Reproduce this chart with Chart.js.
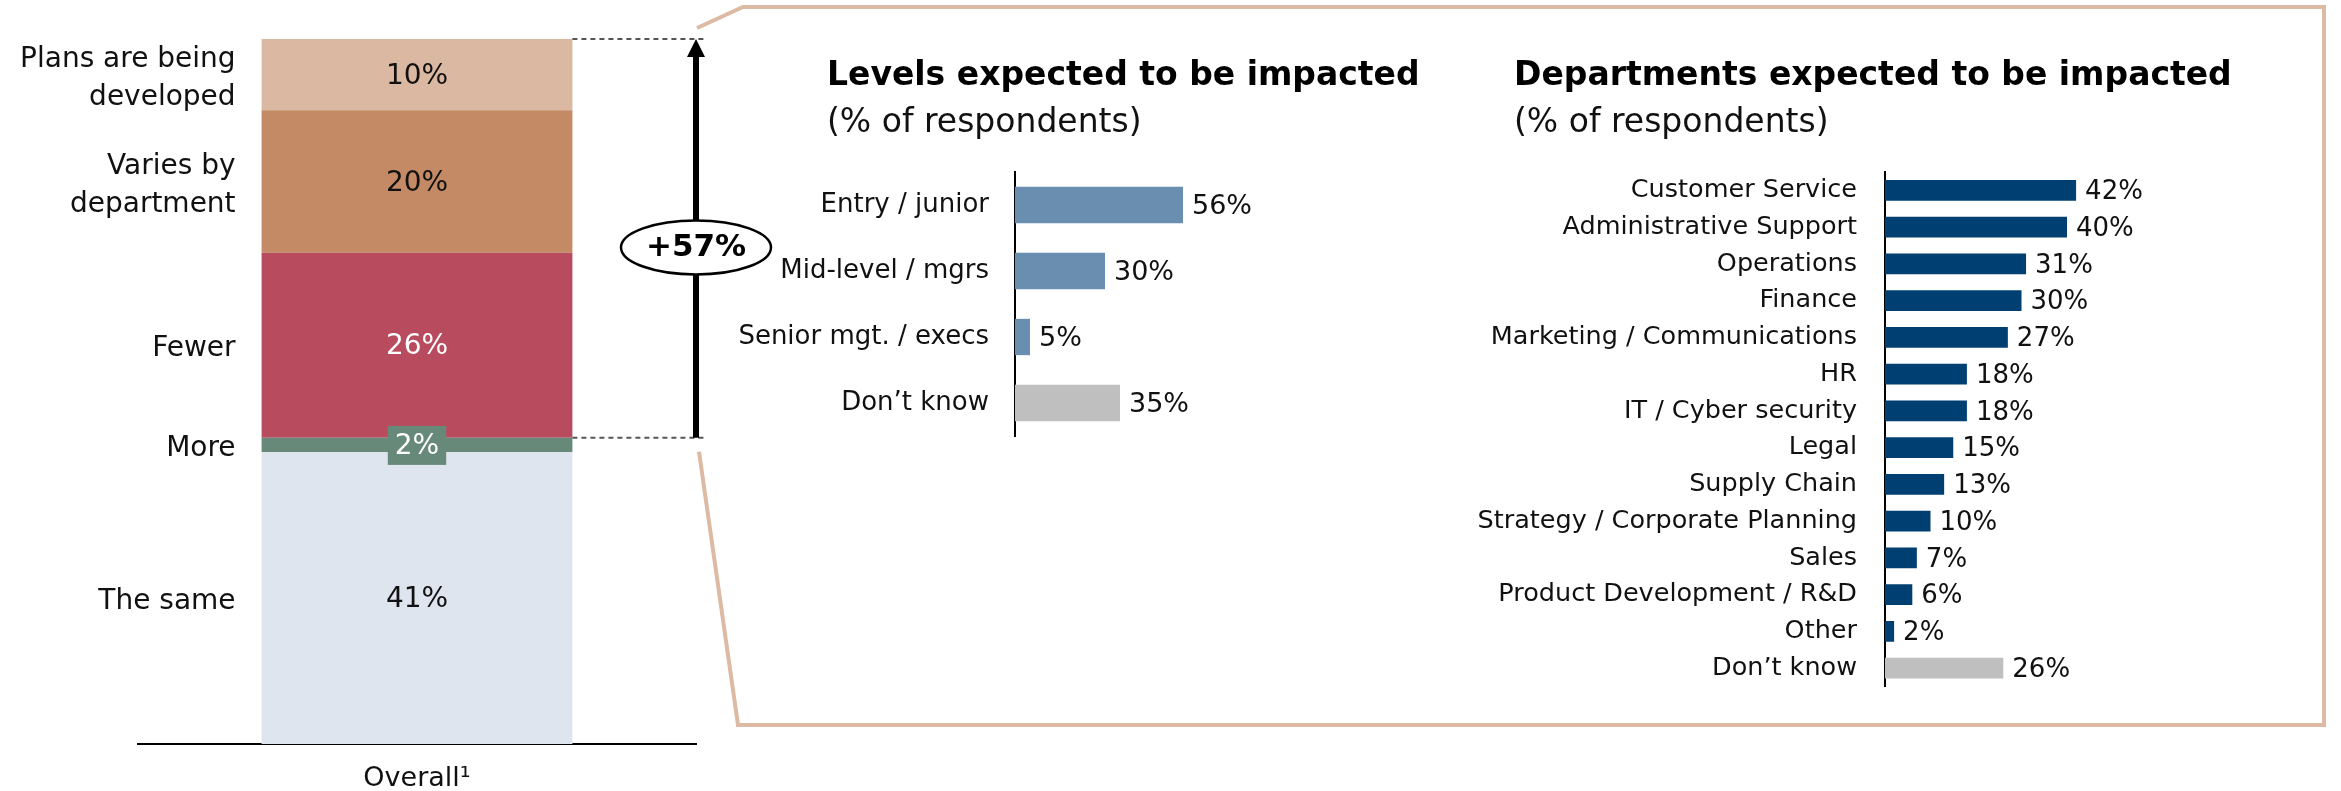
<!DOCTYPE html>
<html>
<head>
<meta charset="utf-8">
<script src="https://cdn.jsdelivr.net/npm/chart.js@4.4.1/dist/chart.umd.min.js"></script>
<style>
  body { margin: 0; background: #fff; overflow: hidden; }
  #wrap { position: relative; width: 2341px; height: 791px; }
  canvas { position: absolute; top: 0; }
</style>
</head>
<body>
<div id="wrap">
  <canvas id="overall" width="2341" height="791" style="left:0"></canvas>
  <canvas id="levels" width="780" height="791" style="left:700px"></canvas>
  <canvas id="departments" width="871" height="791" style="left:1470px"></canvas>
</div>
<script>
// datos del grafico
const overallCategory = ['Overall¹'];
const overallLabels = [['The same'], ['More'], ['Fewer'], ['Varies by', 'department'], ['Plans are being', 'developed']];
const overallValues = [41, 2, 26, 20, 10];
const changeLabel = '+57%';

const levelLabels = ['Entry / junior', 'Mid-level / mgrs', 'Senior mgt. / execs', 'Don’t know'];
const levelValues = [56, 30, 5, 35];

const deptLabels = ['Customer Service', 'Administrative Support', 'Operations', 'Finance',
  'Marketing / Communications', 'HR', 'IT / Cyber security', 'Legal', 'Supply Chain',
  'Strategy / Corporate Planning', 'Sales', 'Product Development / R&D', 'Other', 'Don’t know'];
const deptValues = [42, 40, 31, 30, 27, 18, 18, 15, 13, 10, 7, 6, 2, 26];

// colores
const overallColors = ['#DEE5EF', '#67897A', '#B84B5E', '#C48A65', '#DBB8A1'];
const overallTextColors = ['#111', '#fff', '#fff', '#111', '#111'];
const levelBlue = '#6A8EB0';
const deptBlue = '#003F72';
const unknownGrey = '#BFBFBF';
const frameColor = '#DDBAA3';

Chart.defaults.font.family = "'DejaVu Sans', Verdana, sans-serif";
Chart.defaults.color = '#111';

// etiquetas, flecha, ovalo y marco del grafico apilado
const overallPlugin = {
    id: 'overallExtras',
    afterDraw(chart) {
        const ctx = chart.ctx;
        const area = chart.chartArea;
        const bars = chart.data.datasets.map((d, i) => chart.getDatasetMeta(i).data[0]);
        ctx.save();
        ctx.textBaseline = 'middle';
        bars.forEach((bar, i) => {
            const mid = (bar.y + bar.base) / 2;
            const left = bar.x - bar.width / 2;
            ctx.font = '28px "DejaVu Sans"';
            ctx.fillStyle = '#111';
            ctx.textAlign = 'right';
            const lines = overallLabels[i];
            lines.forEach((t, k) => {
                ctx.fillText(t, left - 26, mid + 4 + (k - (lines.length - 1) / 2) * 38);
            });
            const txt = overallValues[i] + '%';
            ctx.textAlign = 'center';
            if (Math.abs(bar.base - bar.y) < 30) {
                const w = ctx.measureText(txt).width + 14;
                ctx.fillStyle = overallColors[i];
                ctx.fillRect(bar.x - w / 2, mid - 19, w, 39);
            }
            ctx.fillStyle = overallTextColors[i];
            ctx.fillText(txt, bar.x, mid + 2);
        });

        const top = bars[bars.length - 1].y;
        const mid = bars[2].base;
        const barRight = bars[0].x + bars[0].width / 2;
        const ax = area.right;

        // lineas punteadas
        ctx.strokeStyle = '#555';
        ctx.lineWidth = 2;
        ctx.setLineDash([5, 4]);
        [top, mid].forEach(y => {
            ctx.beginPath();
            ctx.moveTo(barRight, y);
            ctx.lineTo(ax + 9, y);
            ctx.stroke();
        });
        ctx.setLineDash([]);

        // flecha
        ctx.strokeStyle = '#000';
        ctx.lineWidth = 6;
        ctx.beginPath();
        ctx.moveTo(ax, mid);
        ctx.lineTo(ax, top + 14);
        ctx.stroke();
        ctx.fillStyle = '#000';
        ctx.beginPath();
        ctx.moveTo(ax, top);
        ctx.lineTo(ax - 9, top + 18);
        ctx.lineTo(ax + 9, top + 18);
        ctx.closePath();
        ctx.fill();

        // ovalo con el cambio
        const cy = (top + mid) / 2 + 9;
        ctx.beginPath();
        ctx.ellipse(ax, cy, 75, 27, 0, 0, Math.PI * 2);
        ctx.fillStyle = '#fff';
        ctx.fill();
        ctx.lineWidth = 2.5;
        ctx.strokeStyle = '#000';
        ctx.stroke();
        ctx.fillStyle = '#000';
        ctx.font = 'bold 31px "DejaVu Sans"';
        ctx.textAlign = 'center';
        ctx.fillText(changeLabel, ax, cy + 1);

        // marco
        ctx.strokeStyle = frameColor;
        ctx.lineWidth = 4;
        ctx.beginPath();
        ctx.moveTo(ax + 3, mid + 14);
        ctx.lineTo(738, 725);
        ctx.lineTo(2324, 725);
        ctx.lineTo(2324, 7);
        ctx.lineTo(743, 7);
        ctx.lineTo(ax + 1, top - 11);
        ctx.stroke();
        ctx.restore();
    }
};

// porcentajes al final de cada barra y titulos
const valuePlugin = {
    id: 'valueLabels',
    afterDatasetsDraw(chart, args, opts) {
        const ctx = chart.ctx;
        const meta = chart.getDatasetMeta(0);
        ctx.save();
        ctx.font = opts.size + 'px "DejaVu Sans"';
        ctx.fillStyle = '#111';
        ctx.textAlign = 'left';
        ctx.textBaseline = 'middle';
        meta.data.forEach((bar, i) => {
            ctx.fillText(chart.data.datasets[0].data[i] + '%', bar.x + 9, bar.y + 2);
        });
        // titulo y subtitulo
        ctx.fillStyle = '#000';
        ctx.font = 'bold 33px "DejaVu Sans"';
        ctx.fillText(opts.title, opts.titleX, 76);
        ctx.fillStyle = '#111';
        ctx.font = '33px "DejaVu Sans"';
        ctx.fillText('(% of respondents)', opts.titleX, 123);
        ctx.restore();
    }
};

new Chart(document.getElementById('overall'), {
    type: 'bar',
    data: {
        labels: overallCategory,
        datasets: overallValues.map((v, i) => ({
            label: overallLabels[i].join(' '),
            data: [v],
            backgroundColor: overallColors[i],
            barPercentage: 0.557,
            categoryPercentage: 1
        }))
    },
    options: {
        responsive: false,
        animation: false,
        layout: { padding: { left: 138, right: 1645, top: 39, bottom: 0 } },
        scales: {
            x: {
                stacked: true,
                grid: { display: false },
                border: { display: true, color: '#000', width: 2 },
                ticks: { color: '#111', padding: 11, font: { size: 27 } },
                afterFit: s => { s.height = 47; }
            },
            y: {
                stacked: true,
                display: false,
                min: 0,
                max: overallValues.reduce((a, b) => a + b, 0)
            }
        },
        plugins: { legend: { display: false }, tooltip: { enabled: false } }
    },
    plugins: [overallPlugin]
});

function crearBarras(id, title, labels, values, color, opts) {
    return new Chart(document.getElementById(id), {
        type: 'bar',
        data: {
            labels: labels,
            datasets: [{
                data: values,
                backgroundColor: labels.map(l => l === 'Don’t know' ? unknownGrey : color),
                barPercentage: opts.bar,
                categoryPercentage: 1
            }]
        },
        options: {
            indexAxis: 'y',
            responsive: false,
            animation: false,
            layout: { padding: opts.padding },
            scales: {
                x: { display: false, min: 0, max: opts.max },
                y: {
                    z: 1,
                    grid: { display: false },
                    border: { display: true, color: '#000', width: 2 },
                    ticks: { autoSkip: false, color: '#111', padding: opts.tickPad, font: { size: opts.tickSize } },
                    afterFit: s => { s.width = opts.axisWidth; }
                }
            },
            plugins: {
                legend: { display: false },
                tooltip: { enabled: false },
                valueLabels: { size: opts.valueSize, title: title, titleX: opts.titleX }
            }
        },
        plugins: [valuePlugin]
    });
}

crearBarras('levels', 'Levels expected to be impacted', levelLabels, levelValues, levelBlue, {
    bar: 0.55, max: 150, tickPad: 18, tickSize: 26, valueSize: 27, axisWidth: 315, titleX: 127,
    padding: { left: 0, right: 15, top: 172, bottom: 355 }
});

crearBarras('departments', 'Departments expected to be impacted', deptLabels, deptValues, deptBlue, {
    bar: 0.57, max: 90, tickPad: 20, tickSize: 25.5, valueSize: 26, axisWidth: 415, titleX: 44,
    padding: { left: 0, right: 46.5, top: 172, bottom: 104.5 }
});
</script>
</body>
</html>
